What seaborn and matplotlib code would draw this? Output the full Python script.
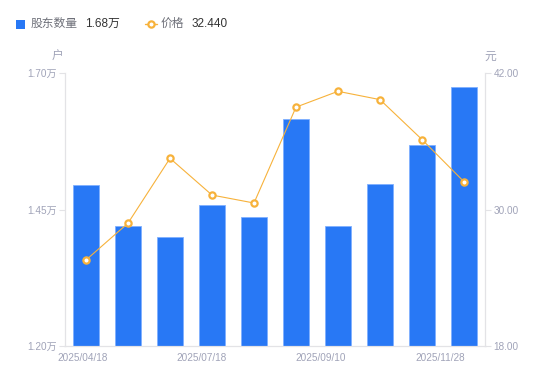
import matplotlib
matplotlib.use("Agg")
import matplotlib.pyplot as plt
import seaborn as sns
import pandas as pd
from matplotlib.lines import Line2D
from matplotlib.patches import Rectangle

# ---- data ----
dates = ["2025/04/18", "2025/05/20", "2025/06/20", "2025/07/18", "2025/08/08",
         "2025/08/29", "2025/09/10", "2025/09/30", "2025/10/31", "2025/11/28"]
holders = [1.494, 1.420, 1.400, 1.458, 1.436, 1.615, 1.420, 1.496, 1.568, 1.675]  # 万户
price = [25.56, 28.80, 34.50, 31.27, 30.57, 39.00, 40.39, 39.66, 36.15, 32.44]
shown_labels = ["2025/04/18", "2025/07/18", "2025/09/10", "2025/11/28"]
left_ticks = [1.20, 1.45, 1.70]
right_ticks = [18.0, 30.0, 42.0]

BLUE = "#2878f5"
ORANGE = "#f7b23b"
GREY = "#a0a3b8"
AXIS = "#e3e3e6"

sns.set_theme(style="white")
plt.rcParams["font.family"] = ["Liberation Sans", "Noto Sans CJK SC", "DejaVu Sans"]

df = pd.DataFrame({"date": dates, "holders": holders, "price": price, "idx": range(len(dates))})

fig = plt.figure(figsize=(5.5, 3.81), dpi=100)
ax = fig.add_axes([65 / 550, 1 - 346 / 381, 420 / 550, 273 / 381])

sns.barplot(data=df, x="idx", y="holders", color=BLUE, saturation=1, width=0.6,
            edgecolor="#7fb0ff", linewidth=0.6, ax=ax)
ax.set_ylim(1.20, 1.70)
ax.set_xlim(-0.5, len(dates) - 0.5)
ax.set_yticks(left_ticks)
ax.set_yticklabels([f"{v:.2f}万" for v in left_ticks])
ax.set_xlabel("")
ax.set_ylabel("")

# x tick labels (evenly laid out like the source)
pos = [-0.08, 2.76, 5.58, 8.43]
ax.set_xticks(pos)
ax.set_xticklabels(shown_labels)
ax.tick_params(axis="x", length=0, colors=GREY, labelsize=7.2, pad=5)
ax.tick_params(axis="y", length=4, width=0.8, color=AXIS, colors=GREY, labelsize=7.2, pad=2)

ax2 = ax.twinx()
sns.lineplot(x=df["idx"], y=df["price"], color=ORANGE, linewidth=0.8, marker="o",
             markersize=4.5, markerfacecolor="white", markeredgecolor=ORANGE,
             markeredgewidth=1.6, ax=ax2)
ax2.set_ylim(18, 42)
ax2.set_yticks(right_ticks)
ax2.set_yticklabels([f"{v:.2f}" for v in right_ticks])
ax2.set_ylabel("")
ax2.set_xlabel("")
ax2.tick_params(axis="y", length=4, width=0.8, color=AXIS, colors=GREY, labelsize=7.2, pad=2)

for a in (ax, ax2):
    a.spines["top"].set_visible(False)
    for s in ("left", "right", "bottom"):
        a.spines[s].set_color(AXIS)
        a.spines[s].set_linewidth(0.8)
    a.grid(False)

# unit labels
fig.text(58 / 550, 1 - 57 / 381, "户", color=GREY, fontsize=8.5, ha="center", va="center")
fig.text(490 / 550, 1 - 57 / 381, "元", color=GREY, fontsize=8.5, ha="center", va="center")

# legend
ly = 1 - 24 / 381
fig.patches.append(Rectangle((16 / 550, 1 - 29 / 381), 9 / 550, 9 / 381,
                             transform=fig.transFigure, facecolor=BLUE, edgecolor="none"))
fig.text(31 / 550, ly, "股东数量", color="#6e7079", fontsize=8.5, ha="left", va="center")
fig.text(85 / 550, ly, "1.68万", color="#333333", fontsize=8.5, ha="left", va="center")
fig.lines.append(Line2D([145 / 550, 157 / 550], [ly, ly], transform=fig.transFigure,
                        color=ORANGE, linewidth=1.0))
fig.lines.append(Line2D([151 / 550], [ly], transform=fig.transFigure, color=ORANGE,
                        marker="o", markersize=4.5, markerfacecolor="white",
                        markeredgecolor=ORANGE, markeredgewidth=1.6))
fig.text(161 / 550, ly, "价格", color="#6e7079", fontsize=8.5, ha="left", va="center")
fig.text(192 / 550, ly, "32.440", color="#333333", fontsize=8.5, ha="left", va="center")

fig.savefig("out.png", dpi=100)
